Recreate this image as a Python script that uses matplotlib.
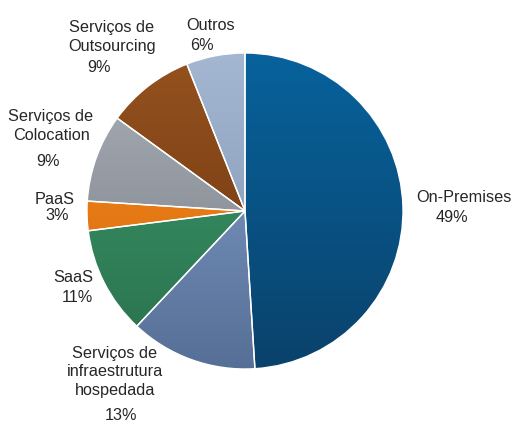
import numpy as np
import matplotlib
matplotlib.use("Agg")
import matplotlib.pyplot as plt
from matplotlib.colors import LinearSegmentedColormap

# Market share by deployment model (%)
categories = ["On-Premises", "Serviços de\ninfraestrutura\nhospedada", "SaaS", "PaaS",
              "Serviços de\nColocation", "Serviços de\nOutsourcing", "Outros"]
shares = [49, 13, 11, 3, 9, 9, 6]

# (top colour, bottom colour) for each slice's vertical gradient
gradients = [
    ("#07629c", "#0a426b"),
    ("#86a3cf", "#566f96"),
    ("#3b9a6c", "#2a714d"),
    ("#f28a1e", "#d9690c"),
    ("#aab0b7", "#767b83"),
    ("#95521f", "#6b330e"),
    ("#a3b6d2", "#7f92ad"),
]

W, H = 514, 424
fig = plt.figure(figsize=(W / 100, H / 100), dpi=100)
ax = fig.add_axes([0, 0, 1, 1])

cx, cy, r = 245, H - 211, 158

wedges, _ = ax.pie(shares, startangle=90, counterclock=False, center=(cx, cy),
                   radius=r, frame=True,
                   wedgeprops=dict(edgecolor="white", linewidth=1.0, facecolor="none"))
ax.set_xlim(0, W)
ax.set_ylim(0, H)
ax.set_aspect("equal")
ax.axis("off")

grad = np.linspace(0, 1, 256).reshape(-1, 1)
for w, (top, bottom) in zip(wedges, gradients):
    cmap = LinearSegmentedColormap.from_list("g", [top, bottom])
    im = ax.imshow(grad, cmap=cmap, aspect="auto",
                   extent=(cx - r, cx + r, cy - r, cy + r), origin="upper", zorder=0.5)
    im.set_clip_path(w)
    w.set_zorder(1)

font = dict(family=["Liberation Sans", "DejaVu Sans"], fontsize=11.7, color="#262626",
            ha="center", va="center", linespacing=1.3)

def put(x, y, s):
    ax.text(x, H - y, s, **font)

# Slice names
put(464, 197, categories[0])
put(115, 372, categories[1])
put(73, 278, categories[2])
put(55, 199, categories[3])
put(51, 126, categories[4])
put(112, 37, categories[5])
put(211, 26, categories[6])

# Slice percentages
pct = [f"{v}%" for v in shares]
put(452, 218, pct[0])
put(121, 416, pct[1])
put(77, 298, pct[2])
put(57, 216, pct[3])
put(48, 161, pct[4])
put(99, 68, pct[5])
put(202, 45, pct[6])

fig.savefig("out.png", dpi=100, facecolor="white")
